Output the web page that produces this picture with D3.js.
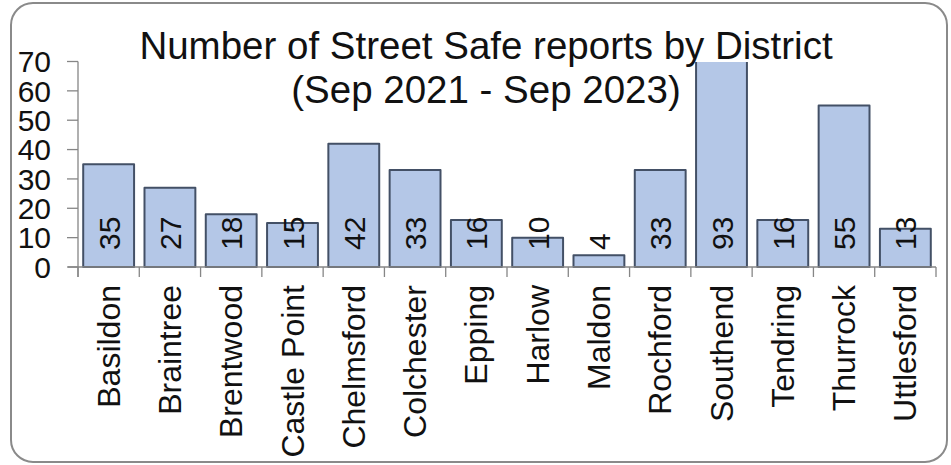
<!DOCTYPE html>
<html>
<head>
<meta charset="utf-8">
<script src="https://cdn.jsdelivr.net/npm/d3@7"></script>
<style>
  body { margin: 0; background: #fff; }
  text { font-family: "Liberation Sans", Arial, sans-serif; fill: #111; }
</style>
</head>
<body>
<svg id="chart" width="951" height="465"></svg>
<script>
// Districts and report counts (Sep 2021 - Sep 2023)
const districts = ["Basildon", "Braintree", "Brentwood", "Castle Point", "Chelmsford", "Colchester",
  "Epping", "Harlow", "Maldon", "Rochford", "Southend", "Tendring", "Thurrock", "Uttlesford"];
const reports = [35, 27, 18, 15, 42, 33, 16, 10, 4, 33, 93, 16, 55, 13];
const yTicks = [0, 10, 20, 30, 40, 50, 60, 70];
const titleLines = ["Number of Street Safe reports by District", "(Sep 2021 - Sep 2023)"];

const svg = d3.select("#chart");

// outer frame
svg.append("rect")
  .attr("x", 11).attr("y", 3)
  .attr("width", 936).attr("height", 459)
  .attr("rx", 22).attr("ry", 22)
  .attr("fill", "#fff")
  .attr("stroke", "#8a8a8a")
  .attr("stroke-width", 2);

const plotLeft = 78, plotRight = 936, plotTop = 61.5, plotBottom = 267;

const x = d3.scaleBand().domain(districts).range([plotLeft, plotRight]).padding(0);
const y = d3.scaleLinear().domain([0, 70]).range([plotBottom, plotTop]);
const barW = x.bandwidth() * 0.83;

// clip so Southend is cut off at the top of the axis
svg.append("clipPath").attr("id", "plot")
  .append("rect")
  .attr("x", plotLeft).attr("y", plotTop + 0.5)
  .attr("width", plotRight - plotLeft).attr("height", plotBottom - plotTop + 5);

svg.append("g").attr("clip-path", "url(#plot)")
  .selectAll("rect")
  .data(reports)
  .enter()
  .append("rect")
  .attr("x", (d, i) => x(districts[i]) + (x.bandwidth() - barW) / 2)
  .attr("y", (d) => y(d))
  .attr("width", barW)
  .attr("height", (d) => plotBottom - y(d))
  .attr("fill", "#b4c7e7")
  .attr("stroke", "#435066")
  .attr("stroke-width", 2)
  .attr("stroke-linejoin", "round");

// y axis
const axisColor = "#868686";
svg.append("line")
  .attr("x1", plotLeft).attr("x2", plotLeft)
  .attr("y1", plotTop).attr("y2", plotBottom + 10)
  .attr("stroke", axisColor).attr("stroke-width", 1.3);

svg.selectAll(".ytick")
  .data(yTicks)
  .enter()
  .append("line")
  .attr("x1", 67).attr("x2", plotLeft)
  .attr("y1", (d) => y(d)).attr("y2", (d) => y(d))
  .attr("stroke", axisColor).attr("stroke-width", 1.3);

svg.selectAll(".ylabel")
  .data(yTicks)
  .enter()
  .append("text")
  .attr("x", 51)
  .attr("y", (d) => y(d))
  .attr("dy", "0.36em")
  .attr("text-anchor", "end")
  .style("font-size", "30px")
  .text((d) => d);

// x axis
svg.append("line")
  .attr("x1", plotLeft - 10).attr("x2", plotRight)
  .attr("y1", plotBottom).attr("y2", plotBottom)
  .attr("stroke", axisColor).attr("stroke-width", 1.3);

svg.selectAll(".xtick")
  .data(districts.concat(["end"]))
  .enter()
  .append("line")
  .attr("x1", (d, i) => plotLeft + i * x.step())
  .attr("x2", (d, i) => plotLeft + i * x.step())
  .attr("y1", plotBottom).attr("y2", plotBottom + 10)
  .attr("stroke", axisColor).attr("stroke-width", 1.3);

svg.selectAll(".xlabel")
  .data(districts)
  .enter()
  .append("text")
  .attr("transform", (d) => `translate(${x(d) + x.bandwidth() / 2 + 11},285) rotate(-90)`)
  .attr("text-anchor", "end")
  .style("font-size", "32px")
  .text((d) => d);

// value labels, inside base
svg.selectAll(".vlabel")
  .data(reports)
  .enter()
  .append("text")
  .attr("transform", (d, i) => `translate(${x(districts[i]) + x.bandwidth() / 2 + 11},250) rotate(-90)`)
  .attr("text-anchor", "start")
  .style("font-size", "30px")
  .text((d) => d);

// title
svg.selectAll(".title")
  .data(titleLines)
  .enter()
  .append("text")
  .attr("x", 486)
  .attr("y", (d, i) => 59 + i * 44)
  .attr("text-anchor", "middle")
  .style("font-size", "38.5px")
  .text((d) => d);
</script>
</body>
</html>
